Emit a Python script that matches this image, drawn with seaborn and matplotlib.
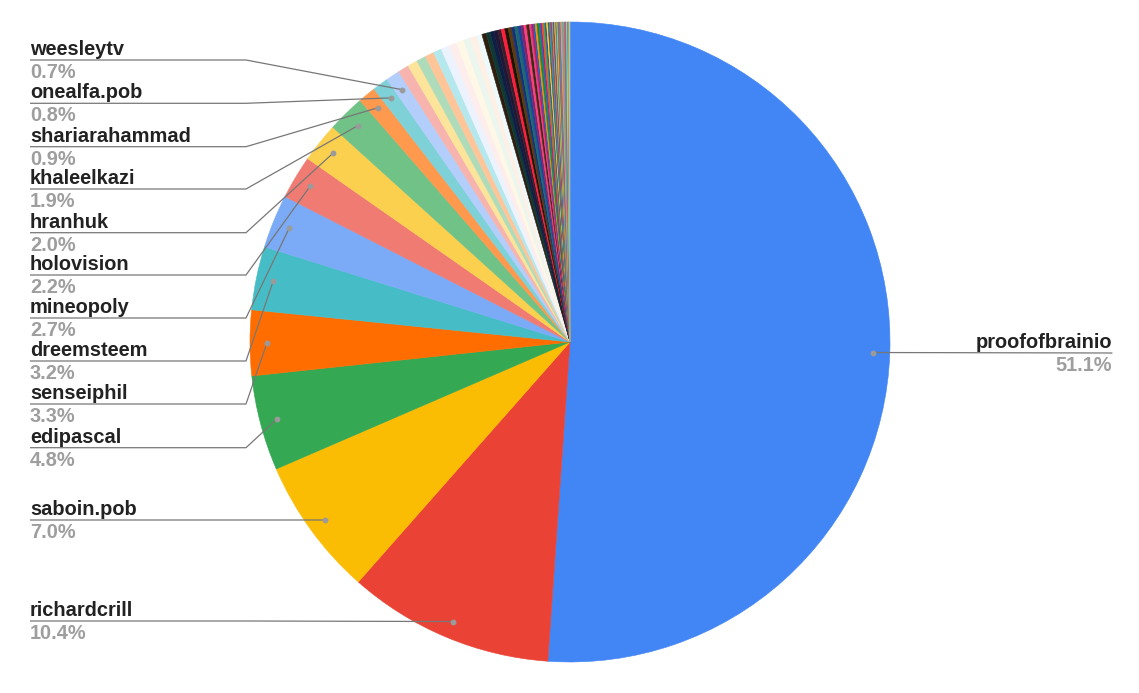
import numpy as np
import matplotlib
matplotlib.use("Agg")
import matplotlib.pyplot as plt
import seaborn as sns

# ---------------- data ----------------
names = ["proofofbrainio", "richardcrill", "saboin.pob", "edipascal", "senseiphil",
         "dreemsteem", "mineopoly", "holovision", "hranhuk", "khaleelkazi",
         "shariarahammad", "onealfa.pob", "weesleytv"]
shares = [51.1, 10.4, 7.0, 4.8, 3.3, 3.2, 2.7, 2.2, 2.0, 1.9, 0.9, 0.8, 0.7]

# unlabeled small accounts
minor_light = [0.55, 0.50, 0.48, 0.45, 0.42, 0.42, 0.40, 0.38, 0.35, 0.32, 0.28]
minor_dark = [0.22, 0.20, 0.20, 0.19, 0.18, 0.18, 0.17, 0.17, 0.16, 0.16, 0.15, 0.15, 0.14, 0.14]
minor_tiny = [0.10, 0.10, 0.09, 0.09, 0.09, 0.08, 0.08, 0.08, 0.08, 0.07, 0.07, 0.07,
              0.07, 0.06, 0.06, 0.06, 0.06, 0.06, 0.05, 0.05, 0.05, 0.05, 0.05, 0.05,
              0.04, 0.04, 0.04, 0.04, 0.04, 0.04, 0.03, 0.03, 0.03, 0.03]

# ---------------- styles ----------------
main_colors = ["#4285F4", "#EA4335", "#FBBC04", "#34A853", "#FF6D01", "#46BDC6",
               "#7BAAF7", "#F07B72", "#FCD04F", "#71C287", "#FF994D", "#7ED1D7", "#B3CEFB"]
light_colors = ["#F7B4AE", "#FDE49B", "#AEDCBA", "#FFC599", "#B5E8EC", "#ECF3FE",
                "#FDEEED", "#FFF8E6", "#EBF6EE", "#FFF0E6", "#EDF9FA"]
dark_colors = ["#2d1e0f", "#0f3a33", "#0d1f45", "#1e1836", "#3b1d2c", "#ff1f3d", "#1b1305",
               "#5c3b10", "#16307a", "#1d6a6a", "#1b40a0", "#7a2866", "#ff3d7f", "#3a2a10"]
tiny_colors = ["#e8408a", "#c2185b", "#1565c0", "#ff8f00", "#2e7d32", "#00897b", "#8e24aa",
               "#f4511e", "#43a047", "#3949ab", "#fdd835", "#6d4c41", "#00acc1", "#d81b60",
               "#7cb342", "#5e35b1", "#ffb300", "#1e88e5", "#c0ca33", "#e53935", "#26a69a",
               "#ab47bc", "#9ccc65", "#ff7043", "#42a5f5", "#66bb6a", "#ec407a", "#8d6e63",
               "#26c6da", "#d4e157", "#7e57c2", "#ffa726", "#78909c", "#a5d6a7"]

sns.set_style("white")
plt.rcParams["font.family"] = ["Liberation Sans", "DejaVu Sans"]

W, H = 1139, 693
CX, CY_S, R = 570, 342, 320      # centre / radius in screen pixels
CY = H - CY_S

values = shares + minor_light + minor_dark + minor_tiny
colors = sns.color_palette(main_colors + light_colors + dark_colors + tiny_colors)

fig = plt.figure(figsize=(W / 100, H / 100), dpi=100)
ax = fig.add_axes([0, 0, 1, 1])
wedges, _ = ax.pie(values, colors=colors, startangle=90, counterclock=False,
                   center=(CX, CY), radius=R, wedgeprops={"linewidth": 0.4})
for w in wedges:
    w.set_edgecolor(w.get_facecolor())
ax.set_xlim(0, W)
ax.set_ylim(0, H)
ax.set_aspect("equal")
ax.axis("off")

total = sum(values)
cum = np.concatenate([[0], np.cumsum(values)])

def anchor(i, r=303):
    th = np.deg2rad(360 * (cum[i] + values[i] / 2) / total)
    return CX + r * np.sin(th), CY + r * np.cos(th)

line_col = "#777777"
name_col = "#222222"
pct_col = "#9e9e9e"
fs = 14.4

# left-side label line positions (screen y) for items 1..12
left_line_y = [621, 520, 447.7, 404, 361, 318, 275, 232.7, 189, 146.7, 103.3, 60]
x_text, x_elbow = 30, 246

for k, i in enumerate(range(1, 13)):
    ly = H - left_line_y[k]
    ax_, ay_ = anchor(i)
    ax.plot([x_text, x_elbow, ax_], [ly, ly, ay_], color=line_col, lw=0.9,
            solid_capstyle="butt", zorder=5)
    ax.plot([ax_], [ay_], "o", color="#9a9a9a", ms=3.2, zorder=6)
    ax.text(x_text, ly + 5, names[i], ha="left", va="baseline", fontsize=fs,
            fontweight="bold", color=name_col)
    ax.text(x_text, ly - 18, f"{shares[i]:.1f}%", ha="left", va="baseline", fontsize=fs,
            fontweight="bold", color=pct_col)

# right label
ly = H - 353
ax_, ay_ = anchor(0)
ax.plot([ax_, 1112], [ay_, ly], color=line_col, lw=0.9, zorder=5)
ax.plot([ax_], [ay_], "o", color="#9a9a9a", ms=3.2, zorder=6)
ax.text(1112, ly + 5, names[0], ha="right", va="baseline", fontsize=fs,
        fontweight="bold", color=name_col)
ax.text(1112, ly - 18, f"{shares[0]:.1f}%", ha="right", va="baseline", fontsize=fs,
        fontweight="bold", color=pct_col)

fig.savefig("out.png", dpi=100, facecolor="white")
